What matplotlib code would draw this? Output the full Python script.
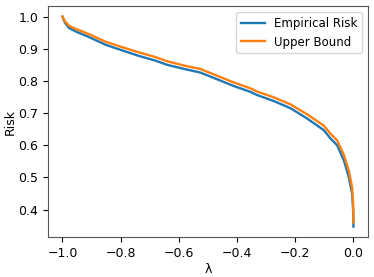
import numpy as np
import matplotlib
matplotlib.use('Agg')
import matplotlib.pyplot as plt

# values
lam = [-1.0, -0.992, -0.978, -0.955, -0.91, -0.852, -0.795, -0.738, -0.68, -0.64, -0.583,
       -0.526, -0.468, -0.411, -0.354, -0.331, -0.274, -0.216, -0.159, -0.102,
       -0.079, -0.056, -0.033, -0.016, -0.0045, -0.001, 0.0]
empirical = [1.0, 0.982, 0.965, 0.954, 0.937, 0.9125, 0.895, 0.878, 0.863, 0.85, 0.8375,
             0.826, 0.805, 0.784, 0.766, 0.756, 0.7375, 0.715, 0.683, 0.647,
             0.621, 0.60, 0.553, 0.501, 0.449, 0.397, 0.347]
bound = [1.0, 0.986, 0.972, 0.962, 0.946, 0.922, 0.905, 0.889, 0.874, 0.861, 0.848,
         0.837, 0.816, 0.795, 0.777, 0.767, 0.749, 0.727, 0.696, 0.661,
         0.636, 0.615, 0.570, 0.520, 0.468, 0.415, 0.36]

plt.rcParams['font.size'] = 9

fig = plt.figure(figsize=(3.74, 2.77), dpi=100)
ax = fig.add_axes([0.128, 0.144, 0.856, 0.834])
ax.plot(lam, empirical, color='#1f77b4', lw=1.7, label='Empirical Risk')
ax.plot(lam, bound, color='#ff7f0e', lw=1.7, label='Upper Bound')
ax.set_xlabel('λ', labelpad=2)
ax.set_ylabel('Risk', labelpad=1)
ax.set_xticks([-1.0, -0.8, -0.6, -0.4, -0.2, 0.0])
ax.set_yticks([0.4, 0.5, 0.6, 0.7, 0.8, 0.9, 1.0])
ax.legend(loc='upper right', fontsize=8.5)
for s in ax.spines.values():
    s.set_color('#555555')
fig.savefig('out.png', dpi=100)
